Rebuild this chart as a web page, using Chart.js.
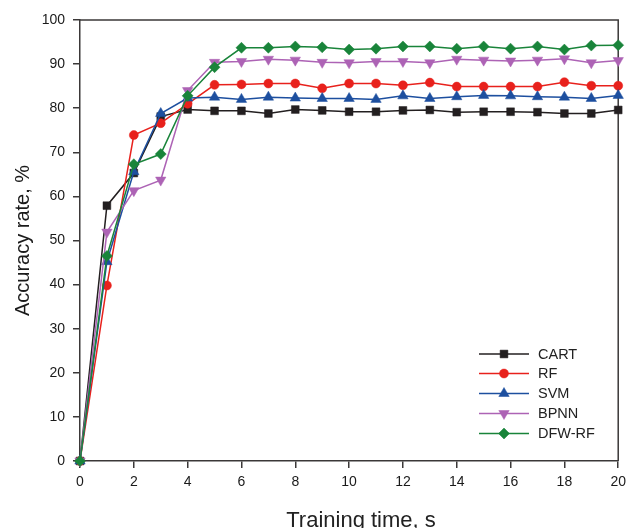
<!DOCTYPE html>
<html>
<head>
<meta charset="utf-8">
<script src="https://cdn.jsdelivr.net/npm/chart.js@4/dist/chart.umd.min.js"></script>
<style>
  html, body { margin: 0; padding: 0; background: #fff; }
  #wrap { width: 632px; height: 528px; }
</style>
</head>
<body>
<div id="wrap"><canvas id="c" width="632" height="528"></canvas></div>
<script>
const times = [0,1,2,3,4,5,6,7,8,9,10,11,12,13,14,15,16,17,18,19,20];
const seriesNames = ["CART", "RF", "SVM", "BPNN", "DFW-RF"];
const cart  = [0,57.9,65.3,78.1,79.7,79.4,79.4,78.8,79.7,79.5,79.2,79.2,79.5,79.6,79.1,79.2,79.2,79.1,78.8,78.8,79.6];
const rf    = [0,39.8,73.9,76.6,81.0,85.3,85.4,85.6,85.6,84.5,85.6,85.6,85.2,85.8,84.9,84.9,84.9,84.9,85.9,85.1,85.1];
const svm   = [0,45.2,65.6,78.8,82.3,82.5,82.0,82.5,82.3,82.2,82.2,82.0,82.8,82.2,82.6,82.9,82.8,82.6,82.5,82.2,82.9];
const bpnn  = [0,51.9,61.3,63.7,84.0,90.4,90.6,91.1,90.9,90.4,90.3,90.6,90.6,90.3,91.1,90.9,90.7,90.9,91.2,90.3,90.8];
const dfwrf = [0,46.5,67.3,69.6,82.8,89.3,93.7,93.7,94.0,93.8,93.3,93.5,94.0,94.0,93.5,94.0,93.5,94.0,93.3,94.2,94.3];
const yTicks = [0,10,20,30,40,50,60,70,80,90,100];
const xTicks = [0,2,4,6,8,10,12,14,16,18,20];

const FONT = "'Liberation Sans', Arial, sans-serif";

function pts(vals) { return times.map((t, i) => ({ x: t, y: vals[i] })); }

const styles = [
  { color: '#231f20', pointStyle: 'rect',     radius: 5.5, rotation: 0 },
  { color: '#e8211c', pointStyle: 'circle',   radius: 4.5, rotation: 0 },
  { color: '#1d4f9f', pointStyle: 'triangle', radius: 6,   rotation: 0 },
  { color: '#ad63b5', pointStyle: 'triangle', radius: 6,   rotation: 180 },
  { color: '#19843a', pointStyle: 'rectRot',  radius: 5.5, rotation: 0 }
];
const allVals = [cart, rf, svm, bpnn, dfwrf];

const datasets = allVals.map((v, i) => ({
  label: seriesNames[i],
  data: pts(v),
  order: allVals.length - i,
  borderColor: styles[i].color,
  backgroundColor: styles[i].color,
  borderWidth: 1.5,
  pointStyle: styles[i].pointStyle,
  pointRadius: styles[i].radius,
  pointRotation: styles[i].rotation,
  pointBorderWidth: 0.5,
  pointHoverRadius: styles[i].radius,
  clip: false,
  tension: 0
}));

const framePlugin = {
  id: 'frame',
  beforeDatasetsDraw(chart) {
    const { ctx, chartArea: a } = chart;
    ctx.save();
    ctx.strokeStyle = '#3b3838';
    ctx.lineWidth = 1.5;
    ctx.beginPath();
    ctx.moveTo(a.left, a.top);
    ctx.lineTo(a.right, a.top);
    ctx.lineTo(a.right, a.bottom);
    ctx.stroke();
    ctx.restore();
  }
};

const legendPlugin = {
  id: 'insideLegend',
  afterDraw(chart) {
    const { ctx } = chart;
    const x0 = 479, x1 = 529, tx = 538;
    const ys = [354, 373.5, 393.5, 413.5, 433.5];
    ctx.save();
    seriesNames.forEach((name, i) => {
      const ds = chart.data.datasets[i];
      const y = ys[i];
      ctx.strokeStyle = ds.borderColor;
      ctx.lineWidth = 1.5;
      ctx.beginPath();
      ctx.moveTo(x0, y);
      ctx.lineTo(x1, y);
      ctx.stroke();
      ctx.fillStyle = ds.backgroundColor;
      ctx.strokeStyle = ds.borderColor;
      ctx.lineWidth = 0.5;
      Chart.helpers.drawPoint(ctx, {
        pointStyle: ds.pointStyle,
        radius: ds.pointRadius,
        rotation: ds.pointRotation,
        borderWidth: 0.5
      }, (x0 + x1) / 2, y);
      ctx.fillStyle = '#222';
      ctx.font = '14.5px ' + FONT;
      ctx.textBaseline = 'middle';
      ctx.textAlign = 'left';
      ctx.fillText(name, tx, y + 0.5);
    });
    // x-axis title
    ctx.fillStyle = '#222';
    ctx.font = '22px ' + FONT;
    ctx.textAlign = 'center';
    ctx.textBaseline = 'alphabetic';
    ctx.fillText('Training time, s', 361, 527);
    ctx.restore();
  }
};

new Chart(document.getElementById('c'), {
  type: 'line',
  data: { datasets },
  options: {
    responsive: false,
    animation: false,
    devicePixelRatio: 1,
    layout: { padding: { top: 20, right: 11, left: 0, bottom: 0 } },
    plugins: { legend: { display: false }, tooltip: { enabled: false } },
    scales: {
      x: {
        type: 'linear',
        min: 0, max: 20,
        afterBuildTicks(scale) { scale.ticks = xTicks.map(v => ({ value: v })); },
        afterFit(scale) { scale.height = 67; },
        border: { display: true, color: '#3b3838', width: 1.5 },
        grid: { display: true, drawOnChartArea: false, drawTicks: true, tickLength: 7, color: '#3b3838', lineWidth: 1.5 },
        ticks: { color: '#1a1a1a', font: { family: FONT, size: 14 }, padding: 6, maxRotation: 0 },
        title: { display: false }
      },
      y: {
        min: 0, max: 100,
        afterBuildTicks(scale) { scale.ticks = yTicks.map(v => ({ value: v })); },
        afterFit(scale) { scale.width = 80; },
        border: { display: true, color: '#3b3838', width: 1.5 },
        grid: { display: true, drawOnChartArea: false, drawTicks: true, tickLength: 7, color: '#3b3838', lineWidth: 1.5 },
        ticks: { color: '#1a1a1a', font: { family: FONT, size: 14 }, padding: 8 },
        title: {
          display: true,
          text: 'Accuracy rate, %',
          color: '#1a1a1a',
          font: { family: FONT, size: 20 },
          padding: { top: 11, bottom: 0 }
        }
      }
    }
  },
  plugins: [framePlugin, legendPlugin]
});
</script>
</body>
</html>
